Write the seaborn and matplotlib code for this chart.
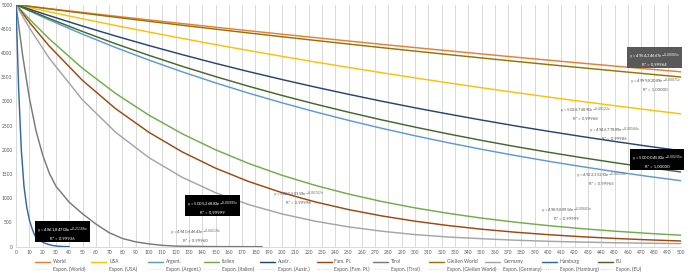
import matplotlib
matplotlib.use("Agg")
import matplotlib.pyplot as plt
import pandas as pd
import seaborn as sns
from matplotlib.lines import Line2D

# ---------------- data ----------------
x_long = [0, 10, 25, 50, 75, 100, 125, 150, 175, 200, 225, 250, 275, 300,
          325, 350, 375, 400, 425, 450, 475, 500]
world = [5000, 4968, 4919, 4840, 4762, 4685, 4610, 4535, 4462, 4390, 4320, 4250,
         4181, 4114, 4048, 3983, 3918, 3855, 3793, 3732, 3672, 3613]
usa = [5000, 4940, 4852, 4709, 4570, 4435, 4304, 4176, 4053, 3933, 3817, 3704,
       3595, 3488, 3385, 3285, 3188, 3094, 3002, 2914, 2828, 2744]
argent = [5000, 4872, 4685, 4391, 4114, 3855, 3613, 3385, 3172, 2973, 2786, 2610,
          2446, 2292, 2148, 2013, 1886, 1767, 1656, 1552, 1454, 1363]
italien = [5000, 4704, 4293, 3686, 3164, 2717, 2333, 2003, 1719, 1476, 1267, 1088,
           934, 802, 689, 591, 508, 436, 374, 321, 276, 237]
austr = [5000, 4908, 4774, 4558, 4352, 4156, 3968, 3788, 3617, 3454, 3298, 3149,
         3006, 2870, 2741, 2617, 2498, 2386, 2278, 2175, 2076, 1983]
fam_pl = [5000, 4639, 4145, 3436, 2849, 2362, 1958, 1623, 1346, 1116, 925, 767,
          636, 527, 437, 362, 300, 249, 206, 171, 142, 118]
giessen = [5000, 4965, 4912, 4826, 4741, 4657, 4575, 4495, 4416, 4338, 4262, 4187,
           4113, 4041, 3970, 3900, 3831, 3764, 3698, 3633, 3569, 3506]
germany = [5000, 4524, 3894, 3033, 2362, 1839, 1433, 1116, 869, 677, 527, 410,
           320, 250, 200, 165, 135, 112, 95, 82, 72, 64]
eu = [5000, 4884, 4715, 4446, 4192, 3953, 3727, 3515, 3314, 3125, 2947, 2779,
      2620, 2471, 2330, 2197, 2071, 1953, 1842, 1737, 1638, 1544]

x_tirol = [0, 5, 10, 15, 20, 25, 30, 40, 50, 60, 70, 80, 90, 100, 110, 120, 140, 160, 185]
tirol = [5000, 3950, 3080, 2400, 1900, 1520, 1250, 920, 680, 470, 290, 170, 100, 58,
         28, 12, 4, 1, 0]

x_hamburg = [0, 2, 4, 6, 8, 10, 12, 14, 16, 18, 20, 22, 25, 28, 32, 36, 40]
hamburg = [5000, 3250, 2000, 1250, 830, 560, 380, 240, 170, 125, 95, 70, 42, 22, 9, 3, 1]

series_names = ["World", "USA", "Argent.", "Italien", "Austr.", "Fam. Pl.", "Tirol",
                "Gießen World", "Germany", "Hamburg", "EU"]
series_x = [x_long, x_long, x_long, x_long, x_long, x_long, x_tirol,
            x_long, x_long, x_hamburg, x_long]
series_y = [world, usa, argent, italien, austr, fam_pl, tirol,
            giessen, germany, hamburg, eu]
colors = ["#ED7D31", "#FFC000", "#5B9BD5", "#70AD47", "#264478", "#9E480E", "#7A7A7A",
          "#997300", "#A5A5A5", "#2E6AA8", "#43682B"]

x_ticks = list(range(0, 501, 10))
y_ticks = list(range(0, 5001, 500))

trend_labels = [
    ("y = 4954,34667e$^{-0{,}00065x}$\nR² = 0,99964", 480, 3878, "grey"),
    ("y = 4999,82089e$^{-0{,}00071x}$\nR² = 1,00000", 481, 3362, None),
    ("y = 5028,76890e$^{-0{,}00122x}$\nR² = 0,99968", 428, 2760, None),
    ("y = 4946,77889e$^{-0{,}00184x}$\nR² = 0,99986", 450, 2349, None),
    ("y = 5000,04582e$^{-0{,}00235x}$\nR² = 1,00000", 482, 1770, "black"),
    ("y = 4922,35392e$^{-0{,}00250x}$\nR² = 0,99965", 440, 1419, None),
    ("y = 4989,88956e$^{-0{,}00603x}$\nR² = 0,99999", 414, 696, None),
    ("y = 5005,58159e$^{-0{,}00747x}$\nR² = 0,99998", 212, 1027, None),
    ("y = 5005,26883e$^{-0{,}00993x}$\nR² = 0,99999", 148, 820, "black"),
    ("y = 4940,64643e$^{-0{,}04119x}$\nR² = 0,99960", 135, 242, None),
    ("y = 4861,84702e$^{-0{,}21166x}$\nR² = 0,99936", 35, 283, "black"),
]

# ---------------- build long table ----------------
frames = []
for name, xs, ys in zip(series_names, series_x, series_y):
    frames.append(pd.DataFrame({"x": xs, "y": ys, "series": name}))
df = pd.concat(frames, ignore_index=True)

sns.set_theme(style="white")
plt.rcParams['font.family'] = ['Lato', 'DejaVu Sans']

W, H = 690, 276
fig = plt.figure(figsize=(W / 100, H / 100), dpi=100)
left, right, top, bottom = 16, 681, 4.7, 246.7
ax = fig.add_axes([left / W, 1 - bottom / H, (right - left) / W, (bottom - top) / H])

sns.lineplot(data=df, x="x", y="y", hue="series", hue_order=series_names,
             palette=colors, sort=False, estimator=None, linewidth=1.05,
             ax=ax, legend=False)

ax.set_xlim(0, 500)
ax.set_ylim(0, 5000)
ax.set_xticks(x_ticks)
ax.set_yticks(y_ticks)
ax.set_xlabel("")
ax.set_ylabel("")
ax.tick_params(axis="both", labelsize=3.5, colors="#595959", length=0, pad=2.5)
ax.grid(axis="x", color="#D9D9D9", linewidth=0.7)
ax.grid(axis="y", visible=False)
ax.set_axisbelow(True)
for s in ["top", "right", "left"]:
    ax.spines[s].set_visible(False)
ax.spines["bottom"].set_color("#D9D9D9")
ax.spines["bottom"].set_linewidth(0.7)

for text, tx, ty, box in trend_labels:
    kw = dict(ha="center", va="center", fontsize=3.1, linespacing=1.25, zorder=5)
    if box == "black":
        ax.text(tx, ty, text, color="white",
                bbox=dict(boxstyle="square,pad=0.45", fc="black", ec="none"), **kw)
    elif box == "grey":
        ax.text(tx, ty, text, color="white",
                bbox=dict(boxstyle="square,pad=0.45", fc="#595959", ec="none"), **kw)
    else:
        ax.text(tx, ty, text, color="#595959", **kw)

# ---------------- legend (Excel-like fixed columns) ----------------
row1_y = 1 - 261.7 / H
row2_y = 1 - 269.3 / H
for i, (name, col) in enumerate(zip(series_names, colors)):
    x0 = 35 + 56.3 * i
    fig.add_artist(Line2D([x0 / W, (x0 + 15) / W], [row1_y, row1_y],
                          color=col, linewidth=1.05, transform=fig.transFigure))
    fig.text((x0 + 18) / W, row1_y, name, fontsize=3.5, color="#595959",
             va="center", ha="left")
    fig.add_artist(Line2D([x0 / W, (x0 + 15) / W], [row2_y, row2_y],
                          color=col, linewidth=0.5, linestyle=":", alpha=0.45,
                          transform=fig.transFigure))
    fig.text((x0 + 18) / W, row2_y, f"Expon. ({name})", fontsize=3.5,
             color="#595959", va="center", ha="left")

fig.savefig("out.png", dpi=100)
